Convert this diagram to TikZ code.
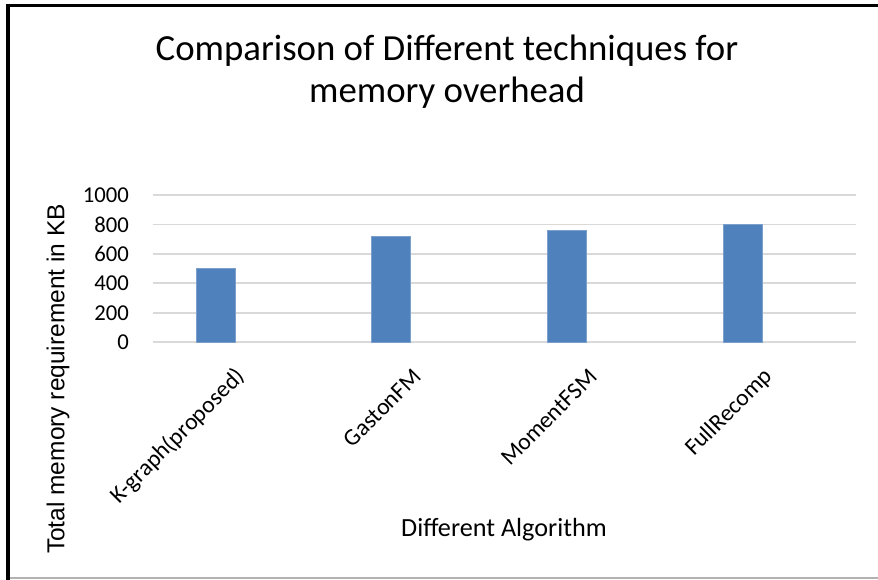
\documentclass[tikz,border=0pt]{standalone}
\usepackage{fontspec}
\setmainfont{Carlito}
\newfontfamily\arialfont{Liberation Sans}
\usepackage{xcolor}
\usepackage{tikz}
\usetikzlibrary{positioning, calc}
\definecolor{barblue}{RGB}{79, 129, 189}
\definecolor{gridgray}{RGB}{217, 217, 217}

\begin{document}
\begin{tikzpicture}[x=1pt, y=1pt,
    gridline/.style={draw=gridgray, line width=1.8pt},
    bar/.style={fill=barblue, draw=barblue!75!white, line width=0.7pt},
    ticklabel/.style={anchor=east, inner sep=0pt, font=\fontsize{22.7}{27}\selectfont},
    catlabel/.style={anchor=east, rotate=45, inner sep=0pt, font=\fontsize{23.6}{28}\selectfont},
    titlefont/.style={anchor=base, inner sep=0pt, font=\fontsize{36.8}{44}\selectfont}]
  \useasboundingbox (0,0) rectangle (878,580);

  % Frame
  \draw[line width=2.7pt] (5.7,574.7) -- (878,574.7);
  \draw[line width=4.3pt] (8,576) -- (8,0);
  \draw[gray!60, line width=1.3pt] (10,2) -- (878,2);

  % Title
  \node[titlefont] (title1) at (447,519) {Comparison of Different techniques for};
  \node[titlefont] (title2) at (447,477) {memory overhead};

  % Grid and y ticks
  \foreach \v [count=\i from 0] in {0,200,...,1000} {
    \draw[gridline] (152.7,{237.7+0.1473*\v}) -- (855.7,{237.7+0.1473*\v});
    \node[ticklabel] (tick\i) at (129,{237.7+0.1473*\v}) {\v};
  }

  % Bars and categories
  \foreach \val/\name [count=\i from 0] in
      {500/K-graph(proposed), 720/GastonFM, 760/MomentFSM, 800/FullRecomp} {
    \pgfmathsetmacro\cx{215.5+175.8*\i}
    \draw[bar] (\cx-19.5,237.7) rectangle (\cx+19.5,{237.7+0.1473*\val});
    \node[catlabel] (cat\i) at (\cx+26,207) {\name};
  }

  % Axis titles
  \node[anchor=base, inner sep=0pt, font=\fontsize{26.2}{31}\selectfont]
    (xtitle) at (504,43) {Different Algorithm};
  \node[rotate=90, inner sep=0pt, font=\arialfont\fontsize{24.5}{29}\selectfont]
    (ytitle) at (58,201) {Total memory requirement in KB};
\end{tikzpicture}
\end{document}
